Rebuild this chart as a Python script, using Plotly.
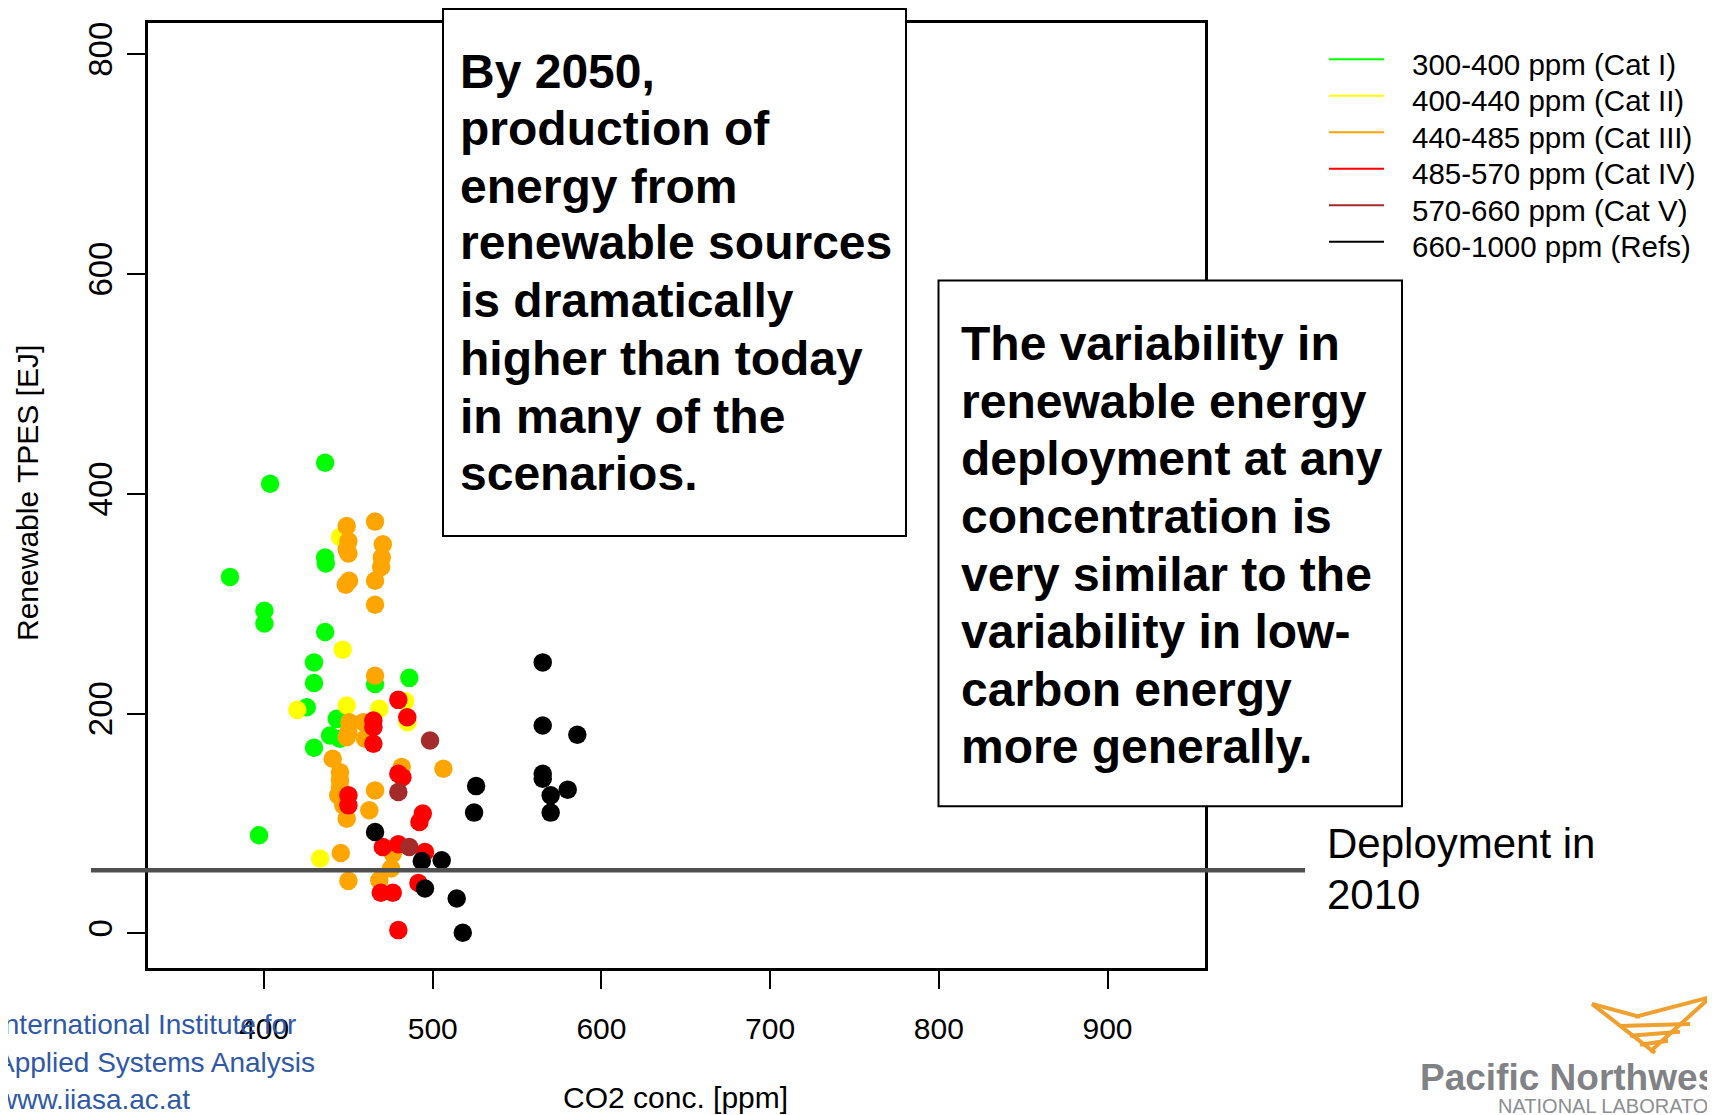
import plotly.graph_objects as go

# ---------------- data ----------------
categories = ["300-400 ppm (Cat I)", "400-440 ppm (Cat II)", "440-485 ppm (Cat III)",
              "485-570 ppm (Cat IV)", "570-660 ppm (Cat V)", "660-1000 ppm (Refs)"]
colors = ["#00FF00", "#FFFF00", "#FFA500", "#FF0000", "#A52A2A", "#000000"]

cat1_x = [436.2, 403.6, 436.2, 436.6, 379.8, 400.2, 400.2, 436.2, 429.6, 429.6, 465.8, 486.1,
          425.3, 443.1, 439.1, 445.0, 429.6, 397.0]
cat1_y = [428.2, 409.2, 342.0, 336.5, 324.4, 293.6, 282.0, 274.2, 246.6, 227.9, 227.0, 232.5,
          205.8, 195.2, 180.1, 177.1, 168.9, 89.3]

cat2_x = [445.0, 446.6, 419.7, 449.0, 468.3, 483.6, 485.0, 433.2]
cat2_y = [360.8, 258.2, 203.4, 207.3, 204.3, 211.2, 192.2, 68.1]

cat3_x = [449.0, 465.8, 450.0, 449.0, 450.0, 470.4, 469.8, 469.4, 450.4, 448.4, 465.8, 465.8,
          465.8, 450.6, 450.0, 449.0, 458.9, 459.9, 440.7, 445.0, 445.0, 445.0, 444.0, 447.0,
          449.0, 481.6, 506.3, 465.8, 462.4, 476.3, 475.3, 445.5, 450.0, 468.3]
cat3_y = [370.7, 374.7, 357.1, 349.6, 345.6, 354.1, 342.0, 333.5, 320.8, 317.2, 320.8, 299.0,
          234.5, 192.2, 183.1, 178.5, 192.2, 177.1, 158.9, 146.7, 139.2, 133.1, 125.6, 116.5,
          104.4, 151.3, 149.8, 130.1, 112.0, 72.6, 59.0, 73.2, 47.8, 48.4]

cat4_x = [479.6, 484.9, 464.8, 464.8, 464.8, 450.0, 450.0, 479.6, 482.0, 494.1, 492.1, 470.4,
          479.6, 495.4, 491.5, 469.2, 476.3, 479.6]
cat4_y = [212.5, 196.7, 193.7, 187.6, 172.5, 125.6, 116.5, 145.3, 142.0, 109.0, 101.3, 78.6,
          81.1, 74.1, 45.9, 36.9, 36.9, 3.0]

cat5_x = [498.4, 479.6, 486.1]
cat5_y = [175.5, 128.6, 78.6]

refs_x = [525.7, 524.5, 465.8, 493.5, 505.3, 495.4, 514.2, 517.8, 565.2, 565.2, 565.2, 565.2,
          569.9, 569.9, 585.7, 580.0]
refs_y = [134.0, 109.9, 92.3, 65.9, 66.6, 40.9, 31.8, 0.5, 246.6, 189.1, 145.3, 140.7,
          125.6, 109.9, 180.7, 130.8]

deployment_2010 = 57.5

x_ticks = [400, 500, 600, 700, 800, 900]
y_ticks = [0, 200, 400, 600, 800]

box1_lines = ["By 2050,", "production of", "energy from", "renewable sources",
              "is dramatically", "higher than today", "in many of the", "scenarios."]
box2_lines = ["The variability in", "renewable energy", "deployment at any",
              "concentration is", "very similar to the", "variability in low-",
              "carbon energy", "more generally."]

# ---------------- layout helpers ----------------
# the page body adds an 8px offset; positions below are screen pixels
OFF = 8
W, H = 1715, 1115
ML, MR, MT, MB = 148 - OFF, 510 + OFF, 21 - OFF, 147 + OFF
PW, PH = W - ML - MR, H - MT - MB


def px(xpix):
    return (xpix - OFF - ML) / PW


def py(ypix):
    return (MT + PH - (ypix - OFF)) / PH


FONT = "Liberation Sans, Arial, sans-serif"

fig = go.Figure()
series = [(cat1_x, cat1_y), (cat2_x, cat2_y), (cat3_x, cat3_y),
          (cat4_x, cat4_y), (cat5_x, cat5_y), (refs_x, refs_y)]
for name, col, (xs, ys) in zip(categories, colors, series):
    fig.add_trace(go.Scatter(x=xs, y=ys, mode="markers", name=name, showlegend=False,
                             marker=dict(color=col, size=18.5, line=dict(width=0))))

shapes = []
annotations = []

# 2010 deployment line
shapes.append(dict(type="line", xref="paper", yref="y", x0=px(91), x1=px(1305),
                   y0=deployment_2010, y1=deployment_2010,
                   line=dict(color="#505050", width=4.5), layer="above"))

# text boxes
shapes.append(dict(type="rect", xref="paper", yref="paper", x0=px(443), x1=px(906),
                   y0=py(535), y1=py(7), fillcolor="white",
                   line=dict(color="black", width=2), layer="above"))
shapes.append(dict(type="rect", xref="paper", yref="paper", x0=px(938.5), x1=px(1402),
                   y0=py(806), y1=py(279), fillcolor="white",
                   line=dict(color="black", width=2), layer="above"))

b1_y = [69.5, 126.5, 184.5, 241.3, 299.3, 357.3, 415.2, 472.1]
for t, yy in zip(box1_lines, b1_y):
    annotations.append(dict(text="<b>%s</b>" % t, xref="paper", yref="paper", x=px(458),
                            y=py(yy), xanchor="left", yanchor="middle", showarrow=False,
                            font=dict(family=FONT, size=48, color="black")))
b2_y = [342.4, 400.3, 457.2, 515.2, 573.2, 631.1, 689.1, 746.0]
for t, yy in zip(box2_lines, b2_y):
    annotations.append(dict(text="<b>%s</b>" % t, xref="paper", yref="paper", x=px(959),
                            y=py(yy), xanchor="left", yanchor="middle", showarrow=False,
                            font=dict(family=FONT, size=48, color="black")))

# deployment label
for t, yy in zip(["Deployment in", "2010"], [843.3, 894.7]):
    annotations.append(dict(text=t, xref="paper", yref="paper", x=px(1325), y=py(yy),
                            xanchor="left", yanchor="middle", showarrow=False,
                            font=dict(family=FONT, size=42, color="black")))

# legend (line keys)
for i, (name, col) in enumerate(zip(categories, colors)):
    ly = 57.3 + i * 36.6
    shapes.append(dict(type="line", xref="paper", yref="paper", x0=px(1329), x1=px(1384),
                       y0=py(ly), y1=py(ly), line=dict(color=col, width=2)))
    annotations.append(dict(text=name, xref="paper", yref="paper", x=px(1410), y=py(ly + 5),
                            xanchor="left", yanchor="middle", showarrow=False,
                            font=dict(family=FONT, size=29.5, color="black")))

# axis titles
annotations.append(dict(text="Renewable TPES [EJ]", xref="paper", yref="paper", x=px(27),
                        y=py(492), xanchor="center", yanchor="middle", textangle=-90,
                        showarrow=False, font=dict(family=FONT, size=30, color="black")))
annotations.append(dict(text="CO2 conc. [ppm]", xref="paper", yref="paper", x=px(675),
                        y=py(1098), xanchor="center", yanchor="middle", showarrow=False,
                        font=dict(family=FONT, size=30, color="black")))

# IIASA logo text
for t, yy in zip(["International Institute for", "Applied Systems Analysis", "www.iiasa.ac.at"],
                 [1025, 1063, 1100]):
    annotations.append(dict(text=t, xref="paper", yref="paper", x=px(-6), y=py(yy),
                            xanchor="left", yanchor="middle", showarrow=False,
                            font=dict(family=FONT, size=28, color="#2F58A8")))

# PNNL logo
annotations.append(dict(text="<b>Pacific Northwest</b>", xref="paper", yref="paper",
                        x=px(1418), y=py(1078), xanchor="left", yanchor="middle",
                        showarrow=False, font=dict(family=FONT, size=37, color="#808285")))
annotations.append(dict(text="NATIONAL LABORATORY", xref="paper", yref="paper",
                        x=px(1496), y=py(1106), xanchor="left", yanchor="middle",
                        showarrow=False, font=dict(family=FONT, size=20, color="#8C8E90")))
logo_segments = [((1592, 1004), (1655, 1053)), ((1650, 1052), (1715, 993)),
                 ((1592, 1004), (1640, 1017)), ((1635, 1017), (1715, 996)),
                 ((1620, 1026), (1690, 1024)), ((1630, 1036), (1680, 1032)),
                 ((1640, 1045), (1668, 1041))]
for (x0, y0), (x1, y1) in logo_segments:
    shapes.append(dict(type="line", xref="paper", yref="paper", x0=px(x0), y0=py(y0),
                       x1=px(x1), y1=py(y1), line=dict(color="#EFA02E", width=4)))

fig.update_layout(
    width=W, height=H,
    margin=dict(l=ML, r=MR, t=MT, b=MB),
    paper_bgcolor="white", plot_bgcolor="white",
    shapes=shapes, annotations=annotations,
    showlegend=False,
    font=dict(family=FONT, color="black"),
)
fig.update_xaxes(range=[331.2, 957.8], tickvals=x_ticks, ticks="outside", ticklen=18,
                 tickwidth=2, tickcolor="black", showgrid=False, zeroline=False,
                 showline=True, mirror=True, linewidth=2.5, linecolor="black",
                 tickfont=dict(family=FONT, size=30, color="black"), ticklabelstandoff=14)
fig.update_yaxes(range=[-31.5, 828.4], tickvals=y_ticks, ticks="outside", ticklen=18,
                 tickwidth=2, tickcolor="black", showgrid=False, zeroline=False,
                 showline=True, mirror=True, linewidth=2.5, linecolor="black", tickangle=-90,
                 tickfont=dict(family="Liberation Sans Narrow, Arial Narrow, Liberation Sans",
                               size=33, color="black"), ticklabelstandoff=2)

fig.write_html("out.html")
